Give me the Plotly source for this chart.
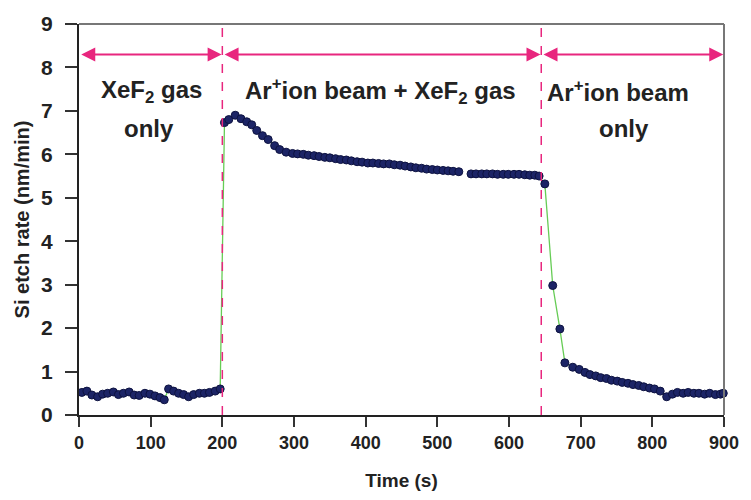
import plotly.graph_objects as go

# Phase 1: XeF2 gas only
t1 = [4, 11, 18, 26, 33, 40, 48, 55, 62, 70, 77, 84, 92, 99, 106, 113, 119, 125, 132, 139, 146, 153, 160, 168, 175, 182, 190, 197]
v1 = [0.52, 0.55, 0.46, 0.42, 0.48, 0.50, 0.53, 0.47, 0.50, 0.53, 0.46, 0.45, 0.50, 0.48, 0.44, 0.40, 0.35, 0.60, 0.55, 0.50, 0.47, 0.42, 0.47, 0.50, 0.50, 0.52, 0.55, 0.60]

# Phase 2: Ar+ ion beam + XeF2 gas
t2 = [203, 209, 218, 226, 234, 241, 248, 256, 264, 273, 280, 289, 298, 305, 313, 320, 328, 335, 343, 350, 358, 365, 373, 380, 388, 395, 403,
      410, 418, 425, 433, 440, 448, 455, 463, 470, 478, 485, 493, 500, 508, 515, 522, 530, 538,
      547, 554, 562, 569, 577, 584, 592, 599, 607, 614, 622, 629, 636, 642]
v2 = [6.73, 6.80, 6.90, 6.82, 6.75, 6.68, 6.55, 6.43, 6.34, 6.20, 6.11, 6.05, 6.02, 6.01, 6.00, 5.98, 5.97, 5.95, 5.93, 5.92, 5.90, 5.88, 5.87, 5.85, 5.83, 5.82, 5.80,
      5.80, 5.79, 5.78, 5.78, 5.76, 5.75, 5.73, 5.71, 5.69, 5.68, 5.66, 5.65, 5.64, 5.63, 5.62, 5.61, 5.60, None,
      5.55, 5.55, 5.55, 5.55, 5.55, 5.54, 5.54, 5.54, 5.54, 5.54, 5.53, 5.52, 5.52, 5.50]

# Phase 3: Ar+ ion beam only
t3 = [650, 661, 671, 678, 689, 698, 706, 713, 721, 728, 736, 743, 751, 758, 766, 773, 781, 788, 796, 803, 811, 820, 828, 835, 843, 850, 858, 865, 873, 880, 888, 895, 899]
v3 = [5.32, 2.98, 1.98, 1.20, 1.10, 1.05, 0.98, 0.93, 0.90, 0.86, 0.84, 0.80, 0.78, 0.75, 0.73, 0.70, 0.68, 0.65, 0.62, 0.60, 0.55, 0.42, 0.48, 0.52, 0.50, 0.52, 0.50, 0.50, 0.48, 0.50, 0.47, 0.48, 0.50]

time = t1 + t2 + t3
rate = v1 + v2 + v3

boundaries = [200, 645]
arrow_y = 8.3
segments = [(0, 200), (200, 645), (645, 900)]

PINK = "#e8267e"
FONT = "Liberation Sans, Arial, sans-serif"
DARK = "#222222"

fig = go.Figure()
fig.add_trace(go.Scatter(
    x=time, y=rate, mode="lines+markers", connectgaps=False, cliponaxis=False,
    line=dict(color="#66cc55", width=1.3),
    marker=dict(color="#1c2466", size=8, line=dict(color="#0d1240", width=1)),
    showlegend=False,
))

for b in boundaries:
    fig.add_shape(type="line", x0=b, x1=b, y0=0, y1=9, xref="x", yref="y",
                  line=dict(color=PINK, width=1.5, dash="dash"))

# grey top and right frame lines
fig.add_shape(type="line", x0=0, x1=1, y0=1, y1=1, xref="paper", yref="paper",
              line=dict(color="#777777", width=2))
fig.add_shape(type="line", x0=1, x1=1, y0=0, y1=1, xref="paper", yref="paper",
              line=dict(color="#777777", width=2))

for (a, b) in segments:
    fig.add_annotation(x=b - 1, y=arrow_y, ax=a + 1, ay=arrow_y, xref="x", yref="y",
                       axref="x", ayref="y", text="", showarrow=True,
                       arrowhead=2, startarrowhead=2, arrowside="end+start",
                       arrowsize=1.4, startarrowsize=1.4, arrowwidth=2, arrowcolor=PINK)

tf = dict(family=FONT, size=24, color=DARK)
fig.add_annotation(x=101, y=7.45, text="<b>XeF<sub>2</sub> gas</b>", showarrow=False, font=tf)
fig.add_annotation(x=97, y=6.6, text="<b>only</b>", showarrow=False, font=tf)
fig.add_annotation(x=420, y=7.45, text="<b>Ar<sup>+</sup>ion beam + XeF<sub>2</sub> gas</b>", showarrow=False, font=tf)
fig.add_annotation(x=752, y=7.45, text="<b>Ar<sup>+</sup>ion beam</b>", showarrow=False, font=tf)
fig.add_annotation(x=760, y=6.6, text="<b>only</b>", showarrow=False, font=tf)

fig.update_xaxes(range=[0, 900], dtick=100, tick0=0, ticks="outside", ticklen=10, tickwidth=2,
                 tickcolor="#333", showline=True, linecolor="#222", linewidth=2, mirror=False,
                 showgrid=False, zeroline=False,
                 tickfont=dict(family=FONT, size=18, color=DARK, weight="bold"),
                 title=dict(text="<b>Time (s)</b>", font=dict(family=FONT, size=19, color=DARK), standoff=22))
fig.update_yaxes(range=[0, 9], dtick=1, tick0=0, ticks="outside", ticklen=12, tickwidth=2,
                 tickcolor="#333", showline=True, linecolor="#222", linewidth=2, mirror=False,
                 showgrid=False, zeroline=False, ticklabelstandoff=8,
                 tickfont=dict(family=FONT, size=21, color=DARK, weight="bold"),
                 title=dict(text="<b>Si etch rate (nm/min)</b>", font=dict(family=FONT, size=20, color=DARK), standoff=6))
fig.update_layout(width=751, height=500, margin=dict(l=79, r=20, t=20, b=84),
                  plot_bgcolor="white", paper_bgcolor="white")

fig.write_html("out.html")
